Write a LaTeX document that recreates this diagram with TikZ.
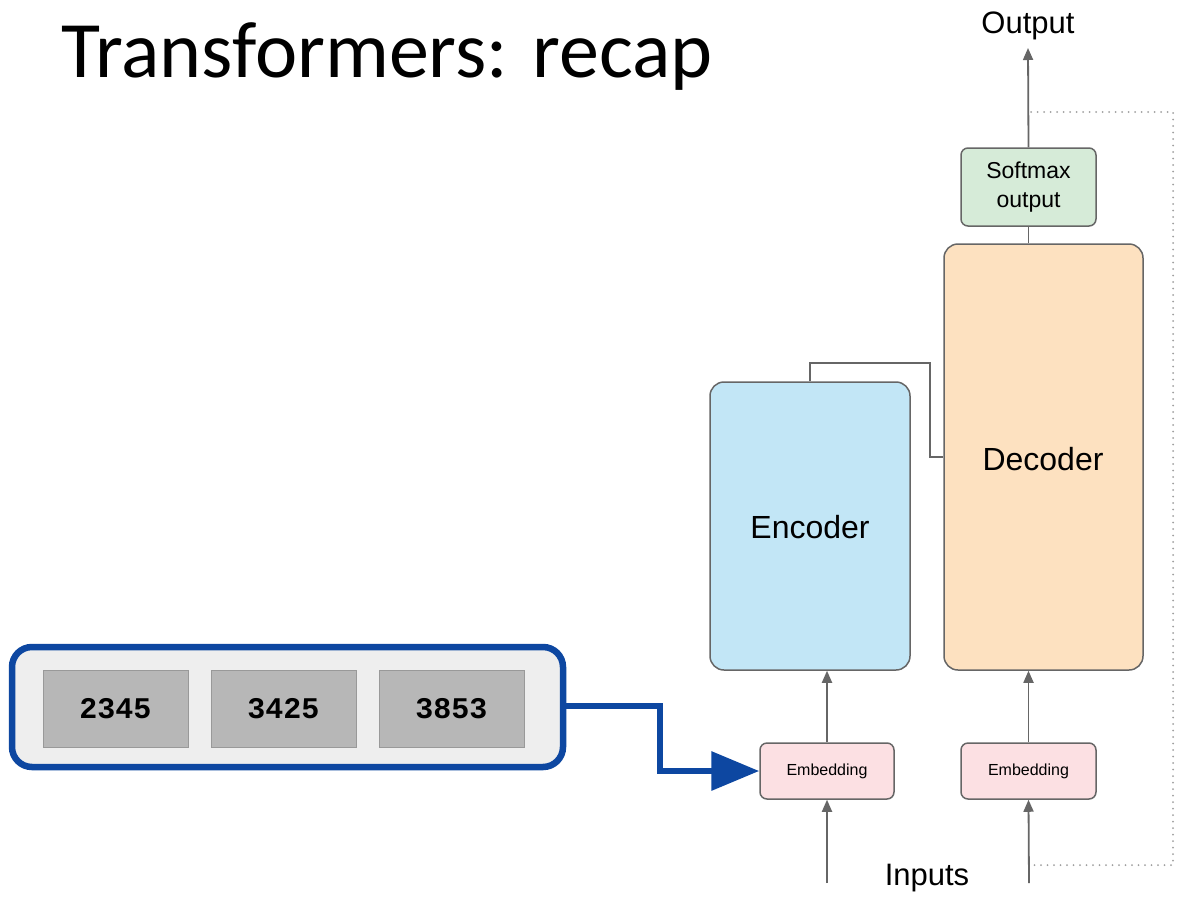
\documentclass[tikz,border=0pt]{standalone}
\usepackage{fontspec}
\setmainfont{Liberation Sans}
\newfontfamily\titlefont{Carlito}
\newfontfamily\monofont{Liberation Mono}
\usetikzlibrary{arrows.meta,positioning}
\definecolor{encblue}{HTML}{C2E6F6}
\definecolor{decpeach}{HTML}{FDE1C0}
\definecolor{smgreen}{HTML}{D6EBD8}
\definecolor{embpink}{HTML}{FCE0E3}
\definecolor{boxgray}{HTML}{B7B7B7}
\definecolor{seqbg}{HTML}{EEEEEE}
\definecolor{seqblue}{HTML}{0D47A1}
\definecolor{linegray}{HTML}{666666}
\tikzset{
  block/.style={draw=linegray, line width=1.5pt, rounded corners=14pt, inner sep=0pt},
  smallblock/.style={draw=linegray, line width=1.5pt, rounded corners=7pt, inner sep=0pt, align=center},
  tok/.style={draw=gray!80, line width=1pt, fill=boxgray, inner sep=0pt, minimum width=145pt, minimum height=77pt, font=\monofont\bfseries\fontsize{30}{32}\selectfont},
  flow/.style={draw=linegray, line width=1.8pt, -{Triangle[length=12pt,width=10pt]}},
  plain/.style={draw=linegray, line width=1.6pt},
  lbl/.style={inner sep=0pt, font=\fontsize{31}{34}\selectfont}
}
\begin{document}
\begin{tikzpicture}[x=1pt,y=-1pt]
\useasboundingbox (0,0) rectangle (1200,903);
\fill[white] (0,0) rectangle (1200,903);
% title
\node[anchor=base west, inner sep=0pt, font=\titlefont\fontsize{80}{86}\selectfont] (title) at (61,77) {Transformers: recap};
% main blocks
\node[block, fill=encblue, minimum width=200pt, minimum height=288pt] (enc) at (810,526) {};
\node[font=\fontsize{32}{35}\selectfont, inner sep=0pt] (enctxt) at (810,527) {Encoder};
\node[block, fill=decpeach, minimum width=199pt, minimum height=426pt] (dec) at (1043.5,457) {};
\node[font=\fontsize{32}{35}\selectfont, inner sep=0pt] (dectxt) at (1043,459) {Decoder};
\node[smallblock, fill=smgreen, minimum width=135pt, minimum height=78pt, font=\fontsize{23}{29}\selectfont] (sm) at (1028.5,187) {Softmax\\output};
\node[smallblock, fill=embpink, minimum width=134pt, minimum height=56pt, font=\fontsize{16}{18}\selectfont] (emb1) at (827,771) {Embedding};
\node[smallblock, fill=embpink, minimum width=135pt, minimum height=56pt, font=\fontsize{16}{18}\selectfont] (emb2) at (1028.5,771) {Embedding};
% labels
\node[lbl] (out) at (1028,26) {Output};
\node[lbl] (inp) at (927,878) {Inputs};
% coordinates
\coordinate (in1) at (827,883);
\coordinate (in2) at (1029,883);
\coordinate (outtip) at (1028,48);
\coordinate (bend) at (930,363);
\coordinate (d1) at (1031,112);
\coordinate (d2) at (1173,865);
\coordinate (d3) at (1031,865);
% connectors
\draw[flow] (in1) -- (emb1.south);
\draw[flow] (in2) -- (emb2.south);
\draw[flow] (emb1.north) -- (emb1.north |- enc.south);
\draw[flow] (emb2.north) -- (emb2.north |- dec.south);
\draw[plain] (dec.north -| sm.south) -- (sm.south);
\draw[flow] (sm.north) -- (outtip);
\draw[plain] (enc.north) |- (bend) |- (dec.west);
\draw[draw=gray!75, line width=2pt, line cap=round, dash pattern=on 0pt off 6.5pt] (d1) -| (d2) -- (d3);
% token sequence
\node[draw=seqblue, line width=6.5pt, fill=seqbg, rounded corners=20pt, minimum width=551pt, minimum height=120pt, inner sep=0pt] (seq) at (287.5,707) {};
\node[tok] (t1) at (115.5,708.5) {2345};
\node[tok] (t2) at (283.5,708.5) {3425};
\node[tok] (t3) at (451.5,708.5) {3853};
\coordinate (bb) at (660,706);
\draw[draw=seqblue, line width=6.5pt, -{Triangle[length=48pt,width=38pt]}] (seq.east |- bb) -- (bb) |- (emb1.west);
\end{tikzpicture}
\end{document}
